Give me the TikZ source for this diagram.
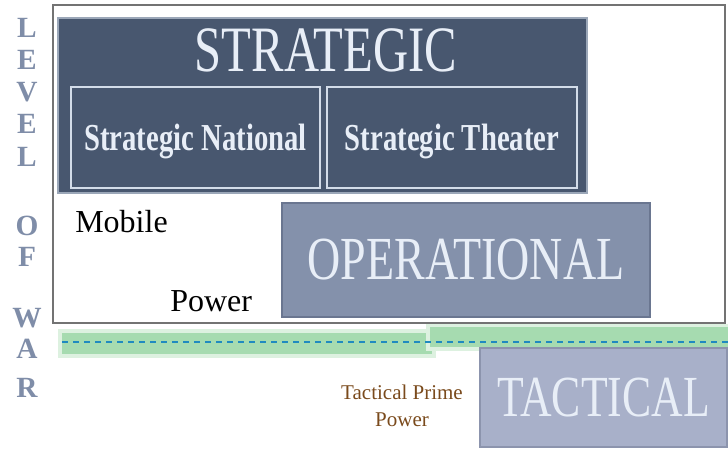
\documentclass[tikz,border=0pt]{standalone}
\usepackage{fontspec}
\setmainfont{Liberation Serif}
\usepackage{graphicx}
\usepackage{tikz}
\usetikzlibrary{shadows}

\definecolor{stratFill}{HTML}{48576F}
\definecolor{stratEdge}{HTML}{D3DCE9}
\definecolor{operFill}{HTML}{8491AB}
\definecolor{operEdge}{HTML}{6A7690}
\definecolor{tactFill}{HTML}{A8B0C9}
\definecolor{tactEdge}{HTML}{8C94AD}
\definecolor{paleText}{HTML}{E8EEF7}
\definecolor{warText}{HTML}{7F8DA8}
\definecolor{bandOuter}{HTML}{DDF1E0}
\definecolor{bandCore}{HTML}{A6DBB0}
\definecolor{dashBlue}{HTML}{1F8AC0}
\definecolor{primeBrown}{HTML}{7A4A1C}

\newcommand{\vstretch}[1]{\scalebox{1}[1.33]{#1}}

\begin{document}
\begin{tikzpicture}[x=0.75pt,y=-0.75pt,
  levelbox/.style={rectangle, inner sep=0pt, line width=1.2pt,
    drop shadow={shadow xshift=1pt, shadow yshift=-1pt, opacity=.45}},
  stratbox/.style={levelbox, fill=stratFill, draw=stratEdge!60!stratFill},
  subbox/.style={rectangle, inner sep=0pt, fill=stratFill, draw=stratEdge,
    line width=1.2pt, text=paleText, text depth=0pt,
    font=\bfseries\fontsize{21.5}{24}\selectfont},
  operbox/.style={levelbox, fill=operFill, draw=operEdge, text=paleText,
    font=\fontsize{34.5}{38}\selectfont},
  tactbox/.style={levelbox, fill=tactFill, draw=tactEdge, text=paleText,
    font=\fontsize{32.8}{36}\selectfont},
  warletter/.style={text=warText, inner sep=0pt,
    font=\bfseries\fontsize{22}{22}\selectfont},
  powerlabel/.style={anchor=base west, inner sep=0pt,
    font=\fontsize{24}{28}\selectfont}]
\def\cFrame{black!55}
\def\cDash{dashBlue}
\useasboundingbox (0,0) rectangle (728,449);

% outer frame
\draw[\cFrame, line width=1.5pt] (53,5) rectangle (725,323);

% strategic level
\node[stratbox, minimum width=396.75pt, minimum height=131.25pt] (strategic) at (322.5,105.5) {};
\node[text=paleText, font=\fontsize{36.5}{40}\selectfont] (stratTitle) at (326,50) {\vstretch{STRATEGIC}};
\node[subbox, minimum width=186.75pt, minimum height=75.75pt] (national) at (195.5,137.5) {\vstretch{Strategic National}};
\node[subbox, minimum width=187.5pt, minimum height=75.75pt] (theater) at (452,137.5) {\vstretch{Strategic Theater}};

% operational level
\node[operbox, minimum width=276pt, minimum height=85.5pt] (operational) at (466,260) {\vstretch{OPERATIONAL}};
\node[powerlabel] (mobile) at (75,232) {Mobile};
\node[powerlabel] (power) at (170,311) {Power};

% boundary band
\fill[bandOuter] (58,329) rectangle (436,358);
\fill[bandCore] (62,333) rectangle (432,354);
\fill[bandOuter] (426,324) rectangle (728,351);
\fill[bandCore] (430,327) rectangle (728,347);
\draw[\cDash, line width=2pt, dash pattern=on 4.5pt off 3.75pt] (62,342) -- (728,342);

% tactical level
\node[tactbox, minimum width=185.25pt, minimum height=74.25pt] (tactical) at (603.5,397.5) {\vstretch{TACTICAL}};
\node[text=primeBrown, align=center, font=\fontsize{15.75}{20}\selectfont] (prime) at (402,406) {Tactical Prime\\Power};

% level of war
\foreach \ch/\yy [count=\i] in {L/28,E/60,V/92,E/124,L/157,O/226,F/257,W/318,A/349,R/388}
  \node[warletter] (war\i) at (27,\yy) {\ch};
\end{tikzpicture}
\end{document}
